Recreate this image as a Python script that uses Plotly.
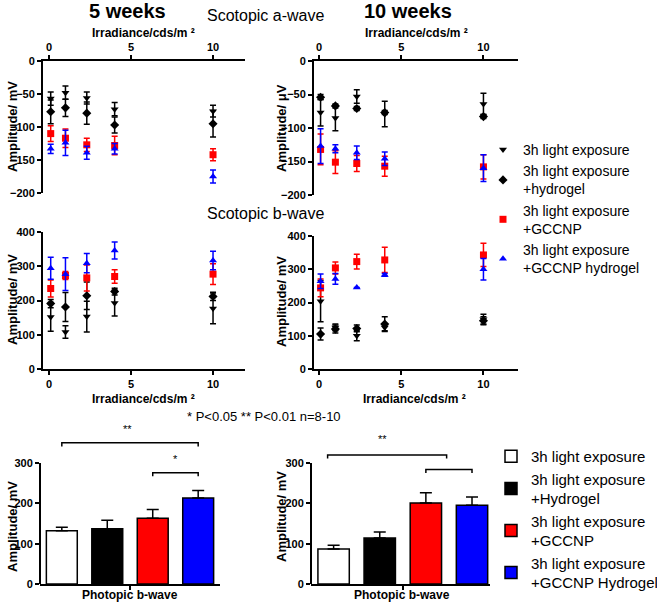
import plotly.graph_objects as go

W, H = 657, 603
FONT = "Liberation Sans, Arial, sans-serif"

# ---- data -------------------------------------------------------------
irradiance = [0.1, 1, 2.3, 4, 10]

groups = ["3h light exposure",
          "3h light exposure<br>+hydrogel",
          "3h light exposure<br>+GCCNP",
          "3h light exposure<br>+GCCNP hydrogel"]
bar_groups = ["3h light exposure",
              "3h light exposure<br>+Hydrogel",
              "3h light exposure<br>+GCCNP",
              "3h light exposure<br>+GCCNP Hydrogel"]

# scotopic a-wave, 5 weeks
a5_light = [-57, -48, -56, -73, -76]
a5_light_err = [10, 10, 9, 10, 9]
a5_hydro = [-77, -71, -79, -97, -95]
a5_hydro_err = [18, 13, 17, 12, 20]
a5_gccnp = [-110, -117, -127, -128, -142]
a5_gccnp_err = [12, 14, 10, 14, 9]
a5_gh = [-133, -124, -139, -133, -175]
a5_gh_err = [7, 19, 10, 8, 10]

# scotopic a-wave, 10 weeks
a10_light = [-77, -85, -53, -79, -64]
a10_light_err = [20, 19, 10, 19, 16]
a10_hydro = [-54, -67, -71, -77, -83]
a10_hydro_err = [4, 3, 3, 3, 3]
a10_gccnp = [-132, -151, -153, -157, -158]
a10_gccnp_err = [23, 17, 12, 15, 18]
a10_gh = [-127, -131, -137, -146, -160]
a10_gh_err = [26, 6, 10, 10, 20]

# scotopic b-wave, 5 weeks
b5_light = [152, 108, 153, 193, 177]
b5_light_err = [42, 18, 45, 38, 45]
b5_hydro = [191, 181, 214, 226, 212]
b5_hydro_err = [12, 42, 40, 10, 12]
b5_gccnp = [235, 273, 266, 270, 277]
b5_gccnp_err = [25, 12, 38, 20, 30]
b5_gh = [294, 277, 309, 346, 317]
b5_gh_err = [32, 48, 28, 25, 27]

# scotopic b-wave, 10 weeks
b10_light = [204, 125, 100, 125, 150]
b10_light_err = [62, 10, 15, 10, 15]
b10_hydro = [105, 120, 122, 135, 145]
b10_hydro_err = [18, 12, 10, 22, 12]
b10_gccnp = [244, 304, 323, 328, 343]
b10_gccnp_err = [27, 18, 22, 38, 35]
b10_gh = [264, 271, 245, 283, 300]
b10_gh_err = [22, 16, 0, 4, 32]

# photopic b-wave bars
bar_pos = [0, 1, 2, 3]
p5_vals = [132, 137, 163, 213]
p5_err = [9, 21, 22, 19]
p10_vals = [87, 114, 201, 195]
p10_err = [9, 15, 25, 21]

# significance brackets: (x start, x end, level, label)
sig5 = [(0, 3, 350, "**"), (2, 3, 276, "*")]
sig10 = [(-0.13, 2.45, 320, "**"), (2, 3, 284, "")]
sig_label_pos5 = [(1.45, 385), (2.5, 311)]
sig_label_pos10 = [(1.07, 360), (2.5, 310)]

colors = ["black", "black", "#ff0000", "#0000ff"]
symbols = ["triangle-down", "diamond", "square", "triangle-up"]
bar_fill = ["white", "black", "#ff0000", "#0000ff"]

fig = go.Figure()


def add_scatter(series, errs, xa, ya, show):
    for i, (vals, err) in enumerate(zip(series, errs)):
        fig.add_trace(go.Scatter(
            x=irradiance, y=vals, mode="markers", name=groups[i],
            marker=dict(symbol=symbols[i], color=colors[i], size=7),
            error_y=dict(type="data", array=err, color=colors[i],
                         thickness=1.5, width=3),
            xaxis=xa, yaxis=ya, showlegend=show, legend="legend",
            cliponaxis=False))


add_scatter([a5_light, a5_hydro, a5_gccnp, a5_gh],
            [a5_light_err, a5_hydro_err, a5_gccnp_err, a5_gh_err], "x", "y", True)
add_scatter([a10_light, a10_hydro, a10_gccnp, a10_gh],
            [a10_light_err, a10_hydro_err, a10_gccnp_err, a10_gh_err], "x2", "y2", False)
add_scatter([b5_light, b5_hydro, b5_gccnp, b5_gh],
            [b5_light_err, b5_hydro_err, b5_gccnp_err, b5_gh_err], "x3", "y3", False)
add_scatter([b10_light, b10_hydro, b10_gccnp, b10_gh],
            [b10_light_err, b10_hydro_err, b10_gccnp_err, b10_gh_err], "x4", "y4", False)


def add_bars(vals, errs, xa, ya, show):
    for i in range(4):
        fig.add_trace(go.Bar(
            x=[bar_pos[i]], y=[vals[i]], width=0.68, name=bar_groups[i],
            marker=dict(color=bar_fill[i], line=dict(color="black", width=1.5)),
            error_y=dict(type="data", array=[errs[i]], arrayminus=[0],
                         symmetric=False, color="black", thickness=1.5, width=6),
            xaxis=xa, yaxis=ya, showlegend=show, legend="legend2"))


add_bars(p5_vals, p5_err, "x5", "y5", True)
add_bars(p10_vals, p10_err, "x6", "y6", False)

annotations = []
shapes = []


def add_sig(sig, labels, xa, ya):
    for (x0, x1, lev, lab), (lx, ly) in zip(sig, labels):
        fig.add_trace(go.Scatter(
            x=[x0, x0, x1, x1], y=[lev - 9, lev, lev, lev - 9], mode="lines",
            line=dict(color="black", width=1.5), xaxis=xa, yaxis=ya,
            showlegend=False, hoverinfo="skip", cliponaxis=False))
        if lab:
            annotations.append(dict(x=lx, y=ly, xref=xa, yref=ya, text=lab,
                                    showarrow=False,
                                    font=dict(size=11, color="black", family=FONT)))


add_sig(sig5, sig_label_pos5, "x5", "y5")
add_sig(sig10, sig_label_pos10, "x6", "y6")


def px(x):
    return x / W


def py(y):
    return 1 - y / H


axis_common = dict(showline=True, linecolor="black", linewidth=2, ticks="outside",
                   tickwidth=2, ticklen=4, tickcolor="black", showgrid=False,
                   zeroline=False, automargin=False,
                   tickfont=dict(size=11, weight="bold", color="black", family=FONT))

xr = [-0.37, 11.95]
layout_axes = dict(
    xaxis=dict(domain=[px(43), px(245)], anchor="y", side="top", range=xr,
               tickvals=[0, 5, 10], **axis_common),
    yaxis=dict(domain=[py(193), py(61)], anchor="x", range=[-200, 0],
               tickvals=[0, -50, -100, -150, -200], **axis_common),
    xaxis2=dict(domain=[px(314), px(518)], anchor="y2", side="top", range=[-0.3, 12.1],
                tickvals=[0, 5, 10], **axis_common),
    yaxis2=dict(domain=[py(195), py(61)], anchor="x2", range=[-200, 0],
                tickvals=[0, -50, -100, -150, -200], **axis_common),
    xaxis3=dict(domain=[px(43), px(245)], anchor="y3", range=xr,
                tickvals=[0, 5, 10], **axis_common),
    yaxis3=dict(domain=[py(369), py(232)], anchor="x3", range=[0, 400],
                tickvals=[0, 100, 200, 300, 400], **axis_common),
    xaxis4=dict(domain=[px(314), px(518)], anchor="y4", range=[-0.3, 12.1],
                tickvals=[0, 5, 10], **axis_common),
    yaxis4=dict(domain=[py(369), py(236)], anchor="x4", range=[0, 400],
                tickvals=[0, 100, 200, 300, 400], **axis_common),
    xaxis5=dict(domain=[px(40), px(220)], anchor="y5", range=[-0.48, 3.48],
                tickvals=[1.5], showticklabels=False, **axis_common),
    yaxis5=dict(domain=[py(584), py(422.7)], anchor="x5", range=[0, 400],
                tickvals=[0, 100, 200, 300], **{**axis_common, "showline": False}),
    xaxis6=dict(domain=[px(311), px(490)], anchor="y6", range=[-0.49, 3.39],
                tickvals=[1.5], showticklabels=False, **axis_common),
    yaxis6=dict(domain=[py(584), py(422.7)], anchor="x6", range=[0, 400],
                tickvals=[0, 100, 200, 300], **{**axis_common, "showline": False}),
)

# bar panels: y axis line only up to 300
for xa, ya in [("x5", "y5"), ("x6", "y6")]:
    shapes.append(dict(type="line", xref=xa + " domain", x0=0, x1=0, yref=ya,
                       y0=0, y1=300, line=dict(color="black", width=2)))


def text(x, y, s, size, bold=False, angle=0, anchor="center"):
    annotations.append(dict(x=px(x), y=py(y), xref="paper", yref="paper", text=s,
                            showarrow=False, textangle=angle, xanchor=anchor,
                            yanchor="middle",
                            font=dict(size=size, weight="bold" if bold else "normal",
                                      color="black", family=FONT)))


text(127, 11, "5 weeks", 20, True)
text(408, 11, "10 weeks", 20, True)
text(265, 16, "Scotopic a-wave", 16)
text(265, 213, "Scotopic b-wave", 16)
irr = "Irradiance/cds/m \u00b2"
text(143, 33, irr, 12, True)
text(416, 33, irr, 12, True)
text(143, 399, irr, 12, True)
text(414, 399, irr, 12, True)
text(12, 127, "Amplitude/ mV", 13, True, -90)
text(281, 128, "Amplitude/ \u03bcV", 13, True, -90)
text(12, 300, "Amplitude/ mV", 13, True, -90)
text(281, 302, "Amplitude/ mV", 13, True, -90)
text(12, 527, "Amplitude/ mV", 13, True, -90)
text(281, 517, "Amplitude/ mV", 13, True, -90)
text(264, 416, "* P<0.05 ** P<0.01 n=8-10", 13)
text(130, 595, "Photopic b-wave", 12, True)
text(402, 595, "Photopic b-wave", 12, True)

fig.update_layout(
    width=W, height=H, margin=dict(l=0, r=0, t=0, b=0, autoexpand=False),
    paper_bgcolor="white", plot_bgcolor="rgba(0,0,0,0)",
    font=dict(family=FONT, color="black"),
    barmode="overlay", showlegend=True,
    legend=dict(x=px(483), y=py(134), xanchor="left", yanchor="top",
                font=dict(size=14, color="black", family=FONT),
                bgcolor="rgba(0,0,0,0)", itemsizing="trace", traceorder="normal"),
    legend2=dict(x=px(491), y=py(440), xanchor="left", yanchor="top",
                 font=dict(size=15, color="black", family=FONT),
                 bgcolor="rgba(0,0,0,0)", traceorder="normal"),
    annotations=annotations, shapes=shapes,
    **layout_axes,
)

fig.write_html("out.html", config={"displayModeBar": False},
               post_script="document.body.style.margin='0';")
